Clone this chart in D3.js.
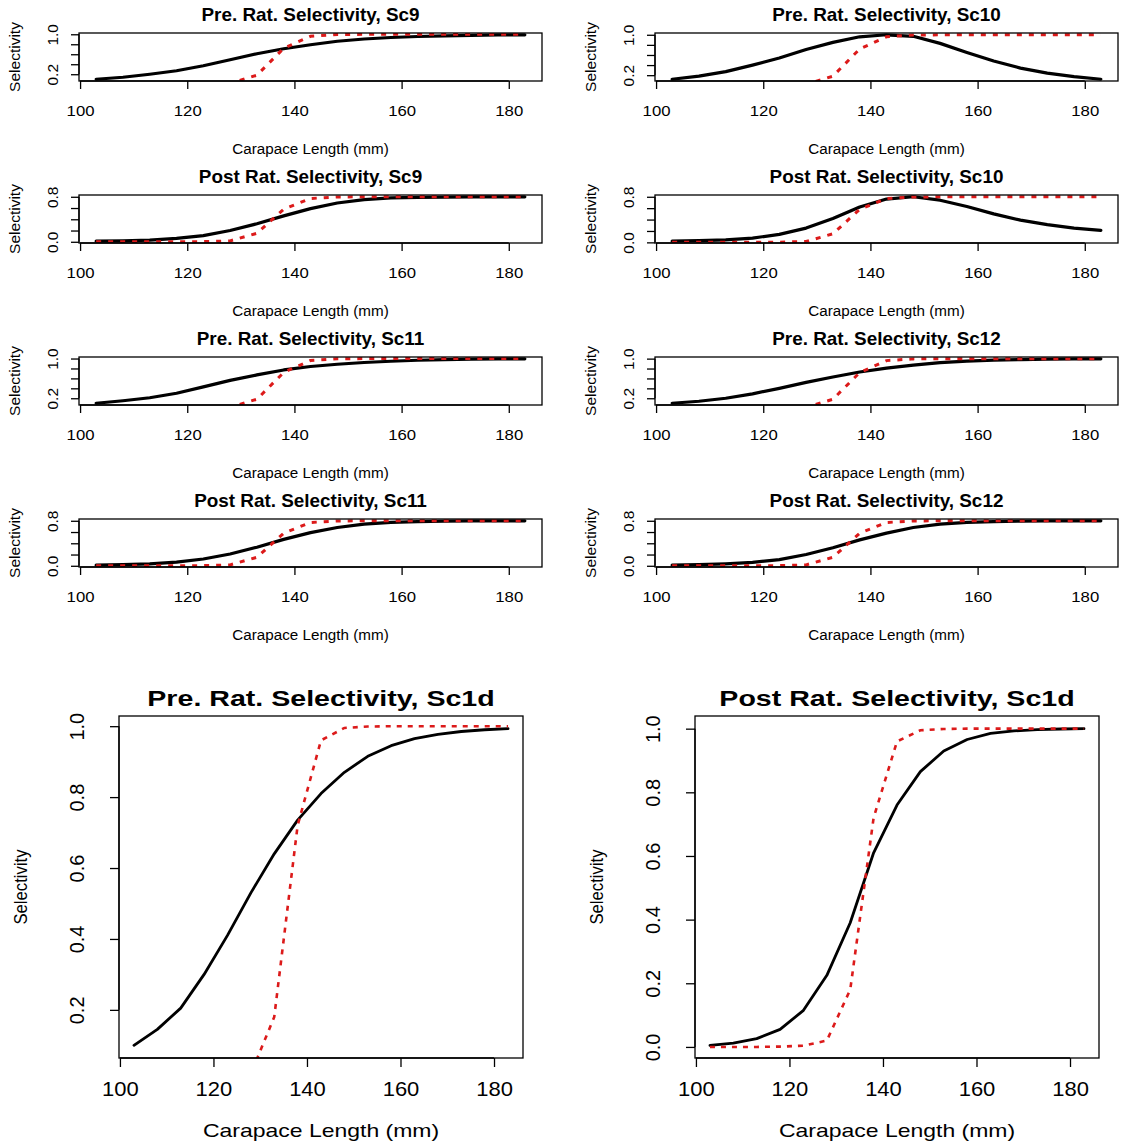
<!DOCTYPE html>
<html><head><meta charset="utf-8">
<script src="https://cdn.jsdelivr.net/npm/d3@7"></script>
<style>body{margin:0;background:#fff}svg{display:block}</style>
</head><body>
<svg id="c" width="1127" height="1145"></svg>
<script>
// ---------- data ----------
const lengths = [103,108,113,118,123,128,133,138,143,148,153,158,163,168,173,178,183];
const xTicks = [100,120,140,160,180];
const xTickLabels = ["100","120","140","160","180"];
const yTicksPre = [0.2,0.4,0.6,0.8,1.0];
const yLabelsPreSmall = ["0.2","","","","1.0"];
const yTicksPostSmall = [0.0,0.2,0.4,0.6,0.8];
const yLabelsPostSmall = ["0.0","","","","0.8"];
const yLabelsPreLarge = ["0.2","0.4","0.6","0.8","1.0"];
const yTicksPostLarge = [0.0,0.2,0.4,0.6,0.8,1.0];
const yLabelsPostLarge = ["0.0","0.2","0.4","0.6","0.8","1.0"];

const redKnife = [0,0,0,0.001,0.004,0.02,0.18,0.72,0.96,0.995,0.999,1,1,1,1,1,1];
const redKnifePostSmall = [0,0,0,0.001,0.003,0.016,0.15,0.58,0.77,0.796,0.8,0.8,0.8,0.8,0.8,0.8,0.8];

const preSc9  = [0.10,0.14,0.20,0.27,0.37,0.49,0.61,0.71,0.79,0.86,0.905,0.935,0.955,0.97,0.98,0.987,0.99];
const preSc10 = [0.12,0.18,0.27,0.40,0.54,0.71,0.85,0.96,1.0,0.97,0.83,0.65,0.48,0.34,0.24,0.17,0.12];
const postSc9 = [0.01,0.015,0.03,0.06,0.11,0.20,0.32,0.46,0.59,0.69,0.75,0.78,0.79,0.795,0.80,0.80,0.80];
const postSc10 = [0.02,0.03,0.045,0.075,0.14,0.25,0.42,0.62,0.76,0.80,0.74,0.63,0.50,0.39,0.31,0.25,0.21];
const preSc11 = [0.10,0.15,0.21,0.30,0.43,0.56,0.67,0.77,0.84,0.885,0.92,0.945,0.965,0.978,0.987,0.992,0.995];
const preSc12 = [0.10,0.14,0.20,0.29,0.40,0.52,0.63,0.73,0.81,0.87,0.92,0.95,0.97,0.98,0.99,0.995,0.997];
const postSc11 = [0.01,0.02,0.035,0.065,0.12,0.21,0.33,0.47,0.59,0.68,0.74,0.77,0.785,0.795,0.80,0.80,0.80];
const postSc12 = [0.01,0.02,0.035,0.06,0.11,0.20,0.32,0.46,0.58,0.68,0.74,0.77,0.785,0.795,0.80,0.80,0.80];
const preSc1d = [0.10,0.145,0.205,0.30,0.41,0.53,0.64,0.735,0.81,0.87,0.915,0.945,0.965,0.977,0.985,0.99,0.993];
const postSc1d = [0.005,0.012,0.026,0.055,0.115,0.225,0.39,0.61,0.76,0.865,0.93,0.966,0.985,0.993,0.997,0.999,1.0];

const titles = [
  "Pre. Rat. Selectivity, Sc9","Pre. Rat. Selectivity, Sc10",
  "Post Rat. Selectivity, Sc9","Post Rat. Selectivity, Sc10",
  "Pre. Rat. Selectivity, Sc11","Pre. Rat. Selectivity, Sc12",
  "Post Rat. Selectivity, Sc11","Post Rat. Selectivity, Sc12",
  "Pre. Rat. Selectivity, Sc1d","Post Rat. Selectivity, Sc1d"
];
const xTitle = "Carapace Length (mm)";
const yTitle = "Selectivity";

// ---------- layout ----------
const FONT = "'Liberation Sans', Arial, Helvetica, sans-serif";
const small = {w:463, h:48, lw:3.2, rw:3, dash:"5,7", bw:1.3, tick:8,
  titleOff:18, titleSize:17.5, titleSx:1.08,
  xLabOff:30, tickFont:15.5, tickSx:1.08, xTitleOff:68, labFont:14.5, labSx:1.05,
  yLabOff:26, yTitleOff:64, yTitleFont:15.5, yTitleSx:1};
const large = {w:404, h:342, lw:2.8, rw:2.6, dash:"5,6", bw:1.3, tick:9,
  titleOff:18, titleSize:22, titleSx:1.3,
  xLabOff:31, tickFont:20, tickSx:1.1, xTitleOff:72, labFont:19, labSx:1.21,
  yLabOff:42, yTitleOff:99, yTitleFont:19, yTitleSx:0.88};
const colLeftSmall = [79, 655];
const rowTopSmall = [33, 195, 357, 519];
const colLeftLarge = [119, 695];
const topLarge = 716;

const panels = [
  {t:titles[0], black:preSc9,  red:redKnife, yt:yTicksPre, yl:yLabelsPreSmall, L:small, c:0, r:0},
  {t:titles[1], black:preSc10, red:redKnife, yt:yTicksPre, yl:yLabelsPreSmall, L:small, c:1, r:0},
  {t:titles[2], black:postSc9,  red:redKnifePostSmall, yt:yTicksPostSmall, yl:yLabelsPostSmall, L:small, c:0, r:1},
  {t:titles[3], black:postSc10, red:redKnifePostSmall, yt:yTicksPostSmall, yl:yLabelsPostSmall, L:small, c:1, r:1},
  {t:titles[4], black:preSc11, red:redKnife, yt:yTicksPre, yl:yLabelsPreSmall, L:small, c:0, r:2},
  {t:titles[5], black:preSc12, red:redKnife, yt:yTicksPre, yl:yLabelsPreSmall, L:small, c:1, r:2},
  {t:titles[6], black:postSc11, red:redKnifePostSmall, yt:yTicksPostSmall, yl:yLabelsPostSmall, L:small, c:0, r:3},
  {t:titles[7], black:postSc12, red:redKnifePostSmall, yt:yTicksPostSmall, yl:yLabelsPostSmall, L:small, c:1, r:3},
  {t:titles[8], black:preSc1d,  red:redKnife, yt:yTicksPre, yl:yLabelsPreLarge, L:large, c:0, r:-1},
  {t:titles[9], black:postSc1d, red:redKnife, yt:yTicksPostLarge, yl:yLabelsPostLarge, L:large, c:1, r:-1}
];

const svg = d3.select("#c");
const RED = "#dc1a1a";
function rExtend([a,b]){ const r=(b-a)*0.04; return [a-r,b+r]; }
function txt(g, x, y, s, size, opt={}){
  const rot = opt.rot || 0, sx = opt.sx || 1;
  return g.append("text")
    .attr("transform",`translate(${x},${y}) rotate(${rot}) scale(${sx},1)`)
    .attr("text-anchor","middle").attr("dy","0.35em")
    .attr("font-family",FONT).attr("font-size",size)
    .attr("font-weight",opt.bold?"bold":"normal").attr("fill","#000").text(s);
}

let clipN = 0;
panels.forEach(p=>{
  const L = p.L;
  const left = L===small ? colLeftSmall[p.c] : colLeftLarge[p.c];
  const top = L===small ? rowTopSmall[p.r] : topLarge;
  const g = svg.append("g").attr("transform",`translate(${left},${top})`);
  const x = d3.scaleLinear().domain(rExtend(d3.extent(lengths))).range([0,L.w]);
  const y = d3.scaleLinear().domain(rExtend(d3.extent(p.black))).range([L.h,0]);
  const id = "clip"+(clipN++);
  g.append("clipPath").attr("id",id).append("rect").attr("width",L.w).attr("height",L.h);
  const line = d3.line().x((d,i)=>x(lengths[i])).y(d=>y(d));
  const plot = g.append("g").attr("clip-path",`url(#${id})`);
  plot.append("path").datum(p.black).attr("d",line).attr("fill","none")
    .attr("stroke","#000").attr("stroke-width",L.lw).attr("stroke-linejoin","round").attr("stroke-linecap","round");
  plot.append("path").datum(p.red).attr("d",line).attr("fill","none")
    .attr("stroke",RED).attr("stroke-width",L.rw).attr("stroke-dasharray",L.dash);
  g.append("rect").attr("width",L.w).attr("height",L.h).attr("fill","none")
    .attr("stroke","#000").attr("stroke-width",L.bw);

  // x axis
  const xa = g.append("g").attr("transform",`translate(0,${L.h})`)
    .call(d3.axisBottom(x).tickValues(xTicks).tickSize(L.tick).tickSizeOuter(0)
      .tickFormat((d,i)=>xTickLabels[i]));
  xa.select(".domain").remove();
  xa.selectAll(".tick line").attr("stroke","#000").attr("stroke-width",L.bw);
  xa.selectAll(".tick text").attr("y",null).attr("dy","0.35em")
    .attr("transform",`translate(0,${L.xLabOff}) scale(${L.tickSx},1)`)
    .attr("font-family",FONT).attr("font-size",L.tickFont).attr("fill","#000");
  xa.append("line").attr("x1",x(xTicks[0])).attr("x2",x(xTicks[xTicks.length-1]))
    .attr("stroke","#000").attr("stroke-width",L.bw);

  // y axis
  const ya = g.append("g")
    .call(d3.axisLeft(y).tickValues(p.yt).tickSize(L.tick).tickSizeOuter(0)
      .tickFormat((d,i)=>p.yl[i]));
  ya.select(".domain").remove();
  ya.selectAll(".tick line").attr("stroke","#000").attr("stroke-width",L.bw);
  ya.selectAll(".tick text").attr("x",null).attr("dy","0.35em").attr("text-anchor","middle")
    .attr("transform",`translate(${-L.yLabOff},0) rotate(-90)`)
    .attr("font-family",FONT).attr("font-size",L.tickFont).attr("fill","#000");
  ya.append("line").attr("y1",y(p.yt[0])).attr("y2",y(p.yt[p.yt.length-1]))
    .attr("stroke","#000").attr("stroke-width",L.bw);

  // titles
  txt(g, L.w/2, -L.titleOff, p.t, L.titleSize, {bold:true, sx:L.titleSx});
  txt(g, L.w/2, L.h+L.xTitleOff, xTitle, L.labFont, {sx:L.labSx});
  txt(g, -L.yTitleOff, L.h/2, yTitle, L.yTitleFont, {rot:-90, sx:L.yTitleSx});
});
</script>
</body></html>
